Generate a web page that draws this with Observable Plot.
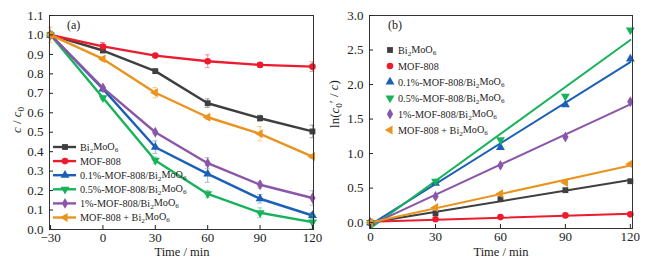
<!DOCTYPE html>
<html><head><meta charset="utf-8">
<script src="https://cdn.jsdelivr.net/npm/d3@7"></script>
<script src="https://cdn.jsdelivr.net/npm/@observablehq/plot@0.6"></script>
<style>
body{margin:0;background:#fff;}
#wrap{display:flex;width:651px;height:269px;overflow:hidden;}
#wrap svg{display:block;}
</style></head><body><div id="wrap"><div id="a"></div><div id="b"></div></div>
<script>
// ---------- data ----------
const times = [-30, 0, 30, 60, 90, 120];
const kTimes = [0, 30, 60, 90, 120];
const seriesNames = ["Bi2MoO6", "MOF-808", "0.1%-MOF-808/Bi2MoO6", "0.5%-MOF-808/Bi2MoO6", "1%-MOF-808/Bi2MoO6", "MOF-808 + Bi2MoO6"];
const colors = ["#3f3f3f", "#ec1c2e", "#1b5fb6", "#17b25a", "#8b56a8", "#e8941f"];

// c / c0 (panel a)
const ratioBi = [1.0, 0.920, 0.814, 0.649, 0.572, 0.504];
const ratioMOF = [1.0, 0.941, 0.894, 0.865, 0.846, 0.837];
const ratio01 = [1.0, 0.723, 0.423, 0.286, 0.158, 0.072];
const ratio05 = [1.0, 0.677, 0.355, 0.183, 0.086, 0.038];
const ratio1 = [1.0, 0.728, 0.500, 0.341, 0.230, 0.162];
const ratioMix = [1.0, 0.877, 0.703, 0.577, 0.492, 0.375];
// error bars (panel a)
const errBi = [0.015, 0.010, 0.010, 0.022, 0.015, 0.032];
const errMOF = [0.010, 0.020, 0.010, 0.033, 0.010, 0.025];
const err01 = [0.010, 0.010, 0.032, 0.043, 0.022, 0.015];
const err05 = [0.010, 0.010, 0.017, 0.018, 0.025, 0.033];
const err1 = [0.010, 0.010, 0.010, 0.028, 0.017, 0.037];
const errMix = [0.040, 0.010, 0.026, 0.010, 0.037, 0.010];

// ln(c0'/c) (panel b)
const lnBi = [0, 0.135, 0.34, 0.47, 0.60];
const lnMOF = [0, 0.05, 0.08, 0.105, 0.12];
const ln01 = [0, 0.57, 1.09, 1.71, 2.37];
const ln05 = [0, 0.60, 1.20, 1.83, 2.79];
const ln1 = [0, 0.38, 0.83, 1.24, 1.75];
const lnMix = [0, 0.22, 0.42, 0.58, 0.85];

const yTicksA = [0.0, 0.1, 0.2, 0.3, 0.4, 0.5, 0.6, 0.7, 0.8, 0.9, 1.0, 1.1];
const yTicksB = [0.0, 0.5, 1.0, 1.5, 2.0, 2.5, 3.0];

const ratios = [ratioBi, ratioMOF, ratio01, ratio05, ratio1, ratioMix];
const errs = [errBi, errMOF, err01, err05, err1, errMix];
const lns = [lnBi, lnMOF, ln01, ln05, ln1, lnMix];

// ---------- symbols ----------
const sqrt3 = Math.sqrt(3);
const triDown = {draw(ctx, size) {
  const y = -Math.sqrt(size / (sqrt3 * 3));
  ctx.moveTo(0, -y * 2); ctx.lineTo(-sqrt3 * y, y); ctx.lineTo(sqrt3 * y, y); ctx.closePath();
}};
const triLeft = {draw(ctx, size) {
  const y = -Math.sqrt(size / (sqrt3 * 3));
  ctx.moveTo(y * 2, 0); ctx.lineTo(-y, -sqrt3 * y); ctx.lineTo(-y, sqrt3 * y); ctx.closePath();
}};
const symbols = [d3.symbolSquare, d3.symbolCircle, d3.symbolTriangle, triDown, d3.symbolDiamond, triLeft];

const FONT = "'Liberation Serif','Times New Roman',serif";

function rich(sel, str) {
  const parts = str.split(/(Bi2MoO6)/);
  parts.forEach(p => {
    if (p === "Bi2MoO6") {
      sel.append("tspan").text("Bi");
      sel.append("tspan").attr("dy", "0.3em").attr("font-size", "0.7em").text("2");
      sel.append("tspan").attr("dy", "-0.3em").text("MoO");
      sel.append("tspan").attr("dy", "0.3em").attr("font-size", "0.7em").text("6");
    } else if (p.length) sel.append("tspan").text(p);
  });
}

const R = 3.3;

// ---------- panel a ----------
(function () {
  const marks = [];
  seriesNames.forEach((name, i) => {
    const data = times.map((t, j) => ({x: t, y: ratios[i][j], e: errs[i][j]}));
    const eb = {stroke: colors[i], strokeOpacity: 0.45, strokeWidth: 1};
    marks.push(Plot.ruleX(data, {x: "x", y1: d => d.y - d.e, y2: d => d.y + d.e, ...eb}));
    marks.push(Plot.ruleY(data, {y: d => d.y + d.e, x1: d => d.x - 1.4, x2: d => d.x + 1.4, ...eb}));
    marks.push(Plot.ruleY(data, {y: d => d.y - d.e, x1: d => d.x - 1.4, x2: d => d.x + 1.4, ...eb}));
    marks.push(Plot.line(data, {x: "x", y: "y", stroke: colors[i], strokeWidth: 2.4}));
    marks.push(Plot.dot(data, {x: "x", y: "y", fill: colors[i], stroke: "none", symbol: symbols[i], r: R}));
  });
  const svg = Plot.plot({
    width: 325, height: 269,
    marginLeft: 49, marginRight: 12, marginTop: 15, marginBottom: 40,
    style: {fontFamily: FONT, fontSize: "13px", color: "#222", background: "#fff"},
    x: {domain: [-30.6, 120.6]},
    y: {domain: [0, 1.1]},
    marks: [
      ...marks,
      Plot.frame({stroke: "#333", strokeWidth: 1}),
      Plot.axisX({ticks: times, tickSize: -4, tickPadding: 7, label: null}),
      Plot.axisY({ticks: yTicksA, tickSize: -4, tickPadding: 10, tickFormat: d => d.toFixed(1), label: null})
    ]
  });
  const s = d3.select(svg);
  const g = s.append("g").attr("font-family", FONT).attr("fill", "#222");
  g.append("text").attr("x", 67).attr("y", 29).attr("text-anchor", "start").attr("font-size", 12).text("(a)");
  const yl = g.append("text").attr("transform", "translate(21,120) rotate(-90)").attr("text-anchor", "middle").attr("font-size", 13);
  yl.append("tspan").attr("font-style", "italic").text("c");
  yl.append("tspan").text(" / ");
  yl.append("tspan").attr("font-style", "italic").text("c");
  yl.append("tspan").attr("dy", "0.3em").attr("font-size", "0.7em").text("0");
  g.append("text").attr("x", 182).attr("y", 256).attr("text-anchor", "middle").attr("font-size", 12.5).text("Time / min");
  // legend
  seriesNames.forEach((name, i) => {
    const y = 147 + i * 14.1;
    const lg = g.append("g").attr("transform", `translate(0,${y})`).attr("text-anchor", "start");
    lg.append("line").attr("x1", 53).attr("x2", 76).attr("y1", 0).attr("y2", 0).attr("stroke", colors[i]).attr("stroke-width", 2.4);
    lg.append("path").attr("d", d3.symbol(symbols[i], Math.PI * R * R)()).attr("transform", "translate(65,0)").attr("fill", colors[i]);
    const t = lg.append("text").attr("x", 80).attr("y", 0).attr("dy", "0.35em").attr("font-size", 10.2).attr("text-anchor", "start");
    rich(t, name);
  });
  document.getElementById("a").appendChild(svg);
})();

// ---------- panel b ----------
(function () {
  const marks = [];
  seriesNames.forEach((name, i) => {
    const data = kTimes.map((t, j) => ({x: t, y: lns[i][j]}));
    marks.push(Plot.linearRegressionY(data, {x: "x", y: "y", stroke: colors[i], strokeWidth: 2, ci: 0}));
  });
  seriesNames.forEach((name, i) => {
    const data = kTimes.map((t, j) => ({x: t, y: lns[i][j]}));
    marks.push(Plot.dot(data, {x: "x", y: "y", fill: colors[i], stroke: "none", symbol: symbols[i], r: R}));
  });
  const svg = Plot.plot({
    width: 326, height: 269,
    marginLeft: 44, marginRight: 19, marginTop: 15, marginBottom: 41,
    style: {fontFamily: FONT, fontSize: "13px", color: "#222", background: "#fff"},
    x: {domain: [-0.5, 121]},
    y: {domain: [-0.085, 3.0]},
    marks: [
      ...marks,
      Plot.frame({stroke: "#333", strokeWidth: 1}),
      Plot.axisX({ticks: kTimes, tickSize: -4, tickPadding: 7, label: null}),
      Plot.axisY({ticks: yTicksB, tickSize: -4, tickPadding: 10, tickFormat: d => d.toFixed(1), label: null})
    ]
  });
  const s = d3.select(svg);
  const g = s.append("g").attr("font-family", FONT).attr("fill", "#222");
  g.append("text").attr("x", 63).attr("y", 29).attr("text-anchor", "start").attr("font-size", 12).text("(b)");
  const yl = g.append("text").attr("transform", "translate(14,104) rotate(-90)").attr("text-anchor", "middle").attr("font-size", 13);
  yl.append("tspan").text("ln(");
  yl.append("tspan").attr("font-style", "italic").text("c");
  yl.append("tspan").attr("dy", "0.3em").attr("font-size", "0.7em").text("0");
  yl.append("tspan").attr("dy", "-0.3em").text("′ / ");
  yl.append("tspan").attr("font-style", "italic").text("c");
  yl.append("tspan").text(")");
  g.append("text").attr("x", 176).attr("y", 256).attr("text-anchor", "middle").attr("font-size", 12.5).text("Time / min");
  seriesNames.forEach((name, i) => {
    const y = 50 + i * 16;
    const lg = g.append("g").attr("transform", `translate(0,${y})`).attr("text-anchor", "start");
    lg.append("path").attr("d", d3.symbol(symbols[i], Math.PI * R * R)()).attr("transform", "translate(65,0)").attr("fill", colors[i]);
    const t = lg.append("text").attr("x", 73).attr("y", 0).attr("dy", "0.35em").attr("font-size", 10.2).attr("text-anchor", "start");
    rich(t, name);
  });
  document.getElementById("b").appendChild(svg);
})();
</script></body></html>
